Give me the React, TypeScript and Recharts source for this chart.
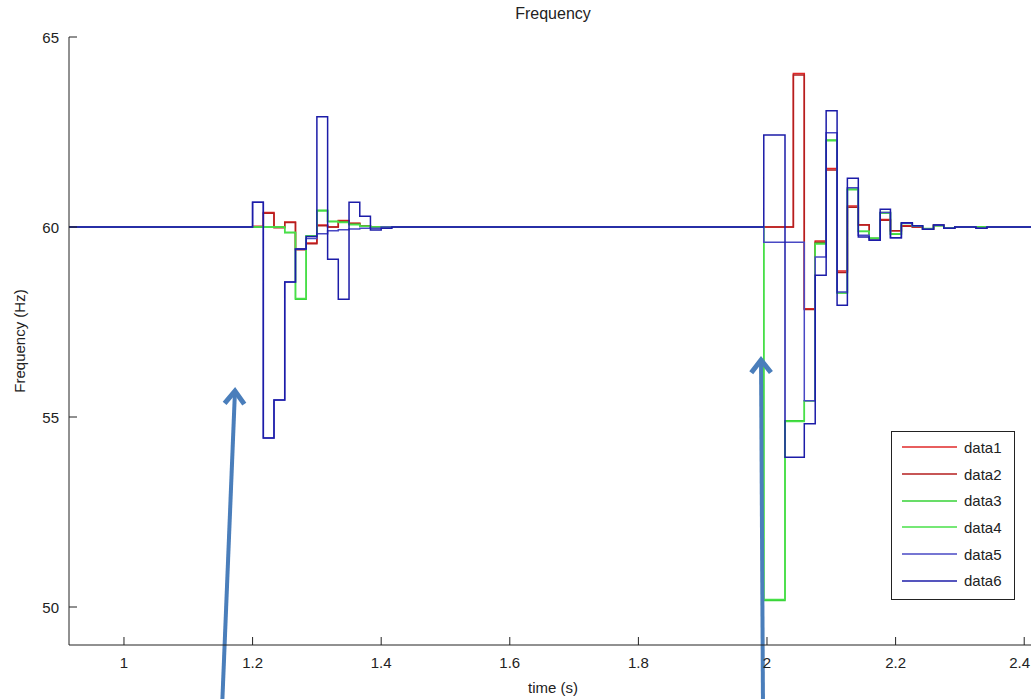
import React from "react";
import {
  LineChart,
  Line,
  XAxis,
  YAxis,
  Legend,
  ReferenceLine,
} from "recharts";

// sample times (s), shared by all six traces
const time = [
  0.9,
  1.2, 1.2167, 1.2333, 1.25, 1.2667, 1.2833, 1.3, 1.3167, 1.3333, 1.35, 1.3667, 1.3833, 1.4, 1.4167,
  1.995, 2.028, 2.041, 2.058, 2.075, 2.092, 2.109, 2.125, 2.142, 2.159, 2.176, 2.192, 2.209, 2.226,
  2.242, 2.259, 2.275, 2.292, 2.309, 2.325, 2.342,
  2.45,
];

const data1 = [
  60,
  60.02, 60.38, 60.0, 60.13, 59.42, 59.58, 60.05, 60.0, 60.17, 60.1, 60.03, 60, 60, 60,
  60, 60, 64.04, 57.85, 59.63, 61.54, 58.84, 60.55, 60.06, 59.69, 60.2, 59.9, 60.03, 60,
  59.94, 60.05, 59.97, 60, 60, 59.98, 60,
  60,
];
const data2 = [
  60,
  60.0, 60.36, 59.98, 60.12, 59.4, 59.56, 60.03, 60.0, 60.15, 60.09, 60.02, 60, 60, 60,
  60, 60, 64.0, 57.83, 59.6, 61.5, 58.8, 60.52, 60.05, 59.7, 60.18, 59.9, 60.02, 60,
  59.95, 60.04, 59.98, 60, 60, 60, 60,
  60,
];
const data3 = [
  60,
  60, 60.0, 60.0, 59.85, 58.1, 59.76, 60.44, 60.15, 60.13, 60.07, 60.02, 60, 60, 60,
  50.17, 54.9, 54.9, 55.43, 59.57, 62.29, 58.26, 61.0, 59.89, 59.7, 60.38, 59.81, 60.1, 60.03,
  59.95, 60.04, 59.98, 60, 60, 60, 60,
  60,
];
const data4 = [
  60,
  60, 60.0, 60.0, 59.86, 58.12, 59.77, 60.42, 60.14, 60.12, 60.06, 60.02, 60, 60, 60,
  50.2, 54.88, 54.88, 55.43, 59.55, 62.27, 58.27, 60.98, 59.88, 59.71, 60.36, 59.82, 60.09, 60.02,
  59.96, 60.03, 59.98, 60, 60, 60, 60,
  60,
];
const data5 = [
  60,
  60.65, 54.45, 55.45, 58.55, 59.42, 59.7, 59.82, 59.9, 59.93, 59.95, 59.97, 59.97, 60, 60,
  59.6, 59.6, 59.6, 55.43, 59.21, 62.48, 58.29, 61.03, 59.78, 59.65, 60.38, 59.72, 60.1, 60.03,
  59.94, 60.05, 59.97, 60, 60, 59.97, 60,
  60,
];
const data6 = [
  60,
  60.65, 54.45, 55.45, 58.55, 59.42, 59.75, 62.9, 59.15, 58.1, 60.65, 60.28, 59.92, 59.97, 60,
  62.42, 53.94, 53.94, 54.82, 58.73, 63.06, 57.94, 61.28, 59.74, 59.65, 60.47, 59.72, 60.11, 60.03,
  59.94, 60.05, 59.97, 60, 60, 59.97, 60,
  60,
];

const seriesNames = ["data1", "data2", "data3", "data4", "data5", "data6"];
const seriesColors = ["#e02828", "#b41e1e", "#36d236", "#48e048", "#4848c4", "#1c1ca8"];
const seriesValues = [data1, data2, data3, data4, data5, data6];

const xTicks = [1, 1.2, 1.4, 1.6, 1.8, 2, 2.2, 2.4];
const yTicks = [50, 55, 60, 65];

// annotation arrows: [tail, tip] in (time, Hz)
const arrows = [
  [{ x: 1.1524, y: 47.3 }, { x: 1.1726, y: 55.68 }],
  [{ x: 1.9938, y: 47.3 }, { x: 1.9907, y: 56.5 }],
];

const chartData = time.map((t, i) => {
  const row: any = { t };
  seriesNames.forEach((name, j) => {
    row[name] = seriesValues[j][i];
  });
  return row;
});

const FONT = "'Liberation Sans', Arial, sans-serif";
const PAGE_W = 1031;

const XTick = (props: any) => {
  const { x, y, payload } = props;
  // keep the last label inside the cropped picture
  const nearEdge = x + 12 > PAGE_W;
  return (
    <g>
      <line x1={x} x2={x} y1={y} y2={y - 8} stroke="#222" />
      <text
        x={nearEdge ? PAGE_W - 1 : x}
        y={y + 17}
        textAnchor={nearEdge ? "end" : "middle"}
        dominantBaseline="central"
        fontFamily={FONT}
        fontSize={15}
        fill="#222"
      >
        {String(payload.value)}
      </text>
    </g>
  );
};

const YTick = (props: any) => {
  const { x, y, payload } = props;
  return (
    <g>
      <line x1={x} x2={x + 8} y1={y} y2={y} stroke="#222" />
      <text x={x - 10} y={y} textAnchor="end" dominantBaseline="central" fontFamily={FONT} fontSize={15} fill="#222">
        {String(payload.value)}
      </text>
    </g>
  );
};

const Arrow = (props: any) => {
  const { x1, y1, x2, y2 } = props;
  const len = Math.hypot(x2 - x1, y2 - y1) || 1;
  const ux = (x2 - x1) / len;
  const uy = (y2 - y1) / len;
  const arm = 16;
  const a = (38 * Math.PI) / 180;
  const bx = -ux, by = -uy;
  const l = [x2 + arm * (bx * Math.cos(a) - by * Math.sin(a)), y2 + arm * (bx * Math.sin(a) + by * Math.cos(a))];
  const r = [x2 + arm * (bx * Math.cos(-a) - by * Math.sin(-a)), y2 + arm * (bx * Math.sin(-a) + by * Math.cos(-a))];
  return (
    <g>
      <line x1={x1} y1={y1} x2={x2 - ux * 2} y2={y2 - uy * 2} stroke="#4a7ebb" strokeWidth={4} />
      <polyline
        points={`${l[0]},${l[1]} ${x2},${y2} ${r[0]},${r[1]}`}
        fill="none"
        stroke="#4a7ebb"
        strokeWidth={5}
        strokeLinejoin="miter"
      />
    </g>
  );
};

const renderLegend = (props: any) => {
  const { payload } = props;
  return (
    <div
      style={{
        border: "1px solid #222",
        background: "#fff",
        width: 124,
        height: 169,
        boxSizing: "border-box",
        paddingTop: 2,
        fontFamily: FONT,
        fontSize: 15,
        color: "#222",
      }}
    >
      {payload.map((entry: any) => (
        <div key={entry.value} style={{ display: "flex", alignItems: "center", height: 26.7 }}>
          <svg width={72} height={10} style={{ display: "block" }}>
            <line x1={10} x2={65} y1={5} y2={5} stroke={entry.color} strokeWidth={1.5} />
          </svg>
          <span>{entry.value}</span>
        </div>
      ))}
    </div>
  );
};

export default function App() {
  return (
    <div
      style={{
        position: "absolute",
        left: 0,
        top: 0,
        width: PAGE_W,
        height: 699,
        overflow: "hidden",
        background: "#fff",
      }}
    >
      <div
        style={{
          position: "absolute",
          left: 453,
          top: 5,
          width: 200,
          textAlign: "center",
          fontFamily: FONT,
          fontSize: 16,
          color: "#222",
          zIndex: 2,
        }}
      >
        Frequency
      </div>
      <LineChart
        width={1040}
        height={699}
        data={chartData}
        margin={{ top: 37, right: 3, left: 9, bottom: 0 }}
      >
        <XAxis
          dataKey="t"
          type="number"
          domain={[0.9145, 2.4199]}
          allowDataOverflow
          ticks={xTicks}
          interval={0}
          tickSize={0}
          tickMargin={0}
          tickLine={false}
          tick={<XTick />}
          axisLine={{ stroke: "#222" }}
          height={54}
          label={{
            value: "time (s)",
            position: "insideBottom",
            offset: 6,
            style: { fontFamily: FONT, fontSize: 15, fill: "#222" },
          }}
        />
        <YAxis
          type="number"
          domain={[49, 65]}
          allowDataOverflow
          ticks={yTicks}
          interval={0}
          tickSize={0}
          tickMargin={0}
          tickLine={false}
          tick={<YTick />}
          axisLine={{ stroke: "#222" }}
          width={60}
          label={{
            value: "Frequency (Hz)",
            angle: -90,
            position: "insideLeft",
            offset: 11,
            style: { textAnchor: "middle", fontFamily: FONT, fontSize: 15, fill: "#222" },
          }}
        />
        {seriesNames.map((name, j) => (
          <Line
            key={name}
            type="stepAfter"
            dataKey={name}
            name={name}
            stroke={seriesColors[j]}
            strokeWidth={1.5}
            dot={false}
            activeDot={false}
            isAnimationActive={false}
          />
        ))}
        {arrows.map((seg, i) => (
          <ReferenceLine key={i} segment={seg} ifOverflow="visible" shape={<Arrow />} />
        ))}
        <Legend
          layout="horizontal"
          verticalAlign="middle"
          align="center"
          content={renderLegend}
          wrapperStyle={{ left: 891, top: 431, width: 124, height: 169 }}
        />
      </LineChart>
    </div>
  );
}
